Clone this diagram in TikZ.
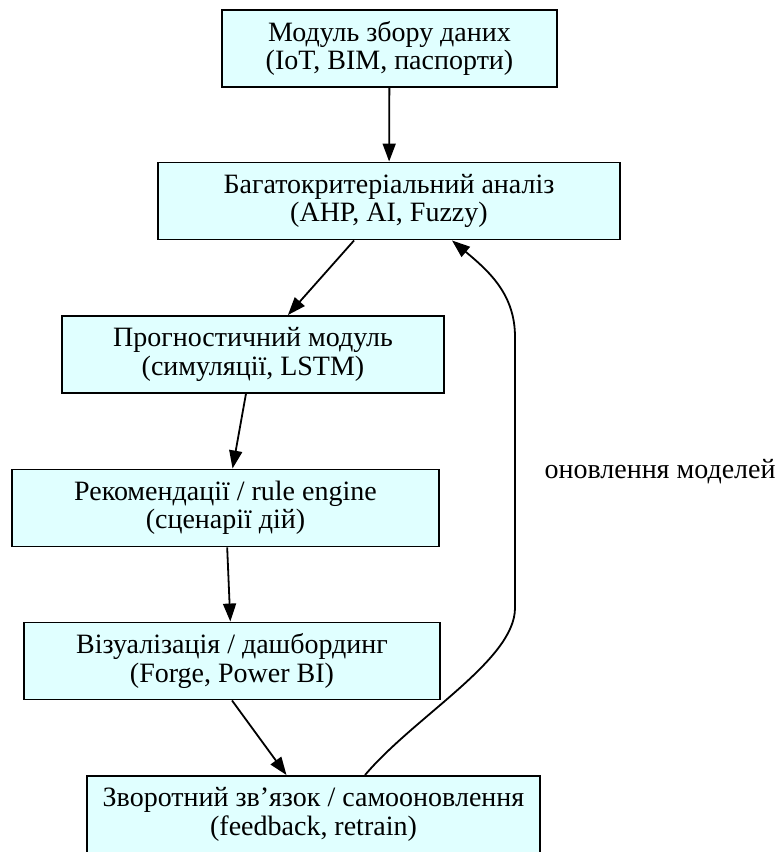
\documentclass[tikz,border=0pt]{standalone}
\usepackage{fontspec}
\setmainfont{Liberation Serif}
\usepackage{xcolor}
\usepackage{tikz}
\usetikzlibrary{arrows.meta}
\definecolor{boxfill}{HTML}{E0FFFF}

\begin{document}
\begin{tikzpicture}[
    x=1pt, y=-1pt,
    block/.style={draw, line width=1.9pt, fill=boxfill, minimum height=77pt, align=center, inner sep=0pt, font=\fontsize{28}{28.5}\selectfont},
    arrow/.style={-{Triangle[length=18pt,width=13pt]}, line width=1.8pt},
    lbl/.style={font=\fontsize{28}{28.5}\selectfont}
]
\useasboundingbox (0,0) rectangle (780,852);
\node[block, minimum width=335pt] (data) at (389.5,48.5) {Модуль збору даних\\(IoT, BIM, паспорти)};
\node[block, minimum width=462pt] (mcda) at (389,201) {Багатокритеріальний аналіз\\(AHP, AI, Fuzzy)};
\node[block, minimum width=382pt] (prog) at (253,354.5) {Прогностичний модуль\\(симуляції, LSTM)};
\node[block, minimum width=427pt] (rec) at (225.5,508) {Рекомендації / rule engine\\(сценарії дій)};
\node[block, minimum width=416pt] (vis) at (232,661) {Візуалізація / дашбординг\\(Forge, Power BI)};
\node[block, minimum width=453pt] (fb) at (313.5,814.5) {Зворотний зв’язок / самооновлення\\(feedback, retrain)};
\node[lbl, anchor=west] (upd) at (541,472) {оновлення моделей};
\draw[arrow] (data) -- (mcda);
\draw[arrow] (mcda) -- (prog);
\draw[arrow] (prog) -- (rec);
\draw[arrow] (rec) -- (vis);
\draw[arrow] (vis.south) -- ([xshift=-27pt]fb.north);
\draw[arrow] ([xshift=51.5pt]fb.north) .. controls (415,716) and (515,660) .. (515,608) -- (515,337) .. controls (515,295) and (490,272) .. ([xshift=63pt]mcda.south);
\end{tikzpicture}
\end{document}
